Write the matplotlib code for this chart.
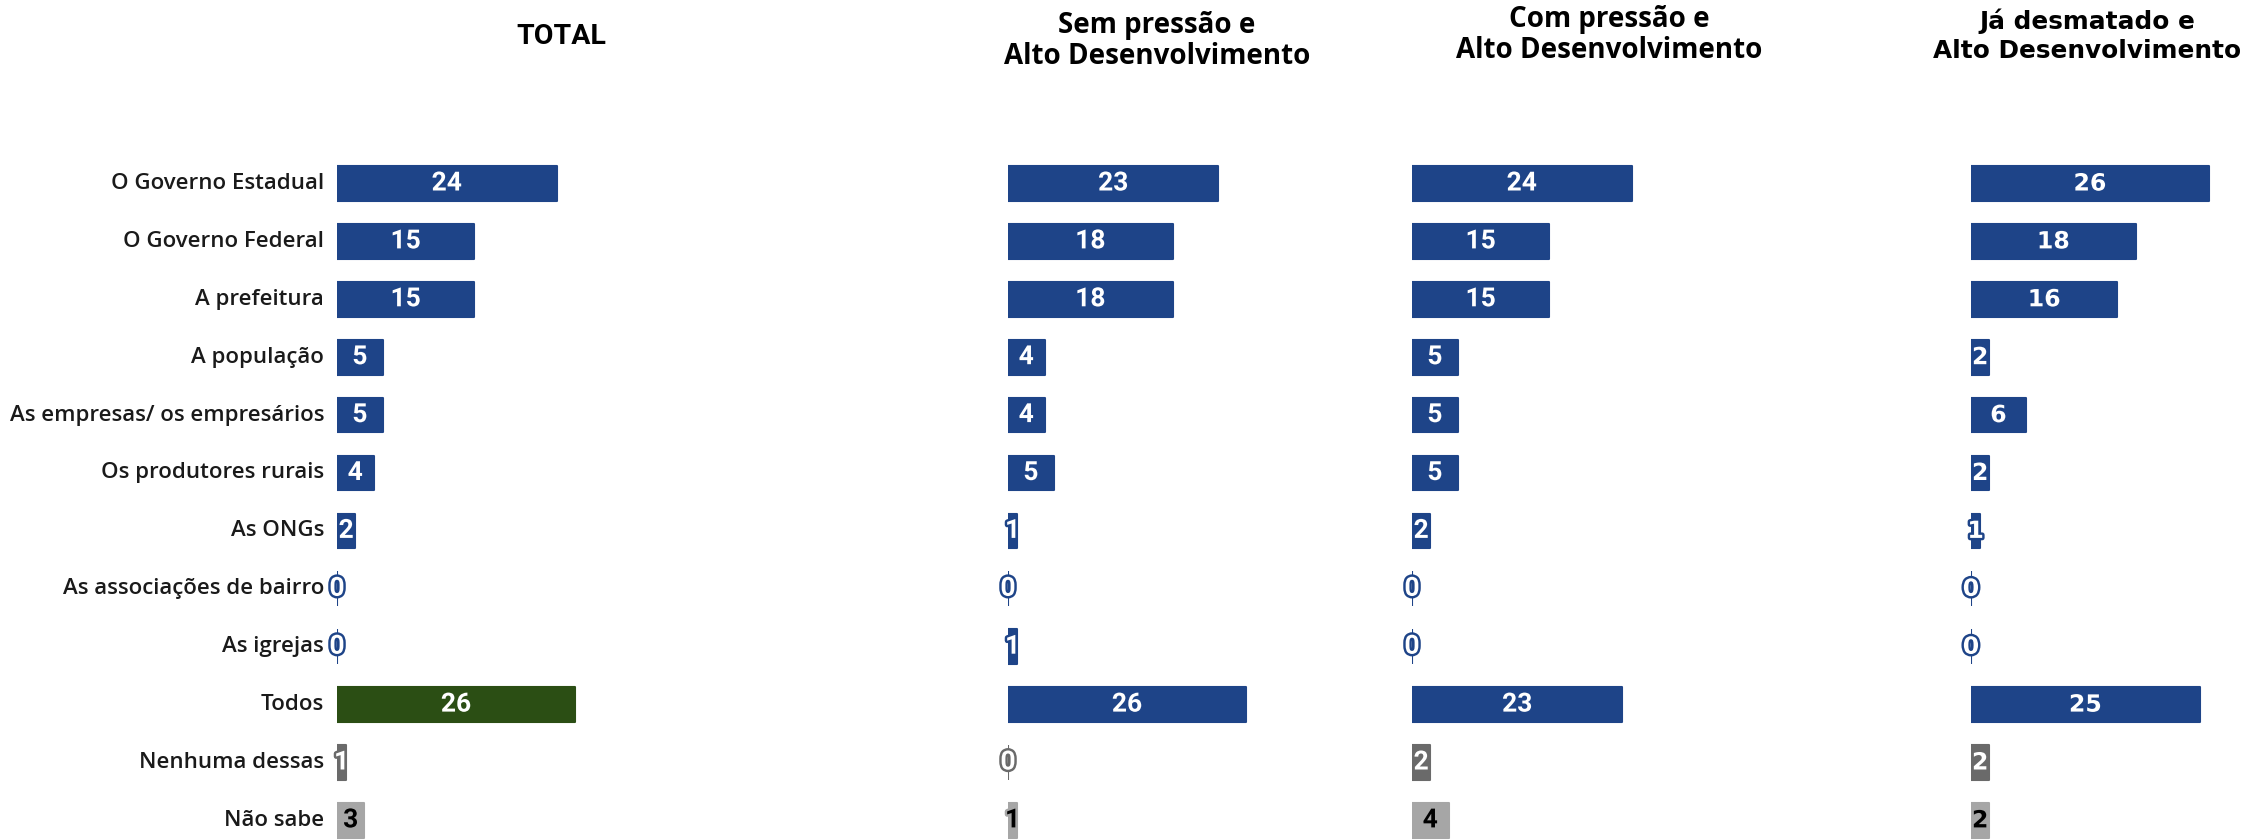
import matplotlib
matplotlib.use("Agg")
import matplotlib.pyplot as plt
import matplotlib.patheffects as pe

categories = ["O Governo Estadual", "O Governo Federal", "A prefeitura", "A população",
              "As empresas/ os empresários", "Os produtores rurais", "As ONGs",
              "As associações de bairro", "As igrejas", "Todos", "Nenhuma dessas", "Não sabe"]
titles = ["TOTAL", "Sem pressão e\nAlto Desenvolvimento", "Com pressão e\nAlto Desenvolvimento",
          "Já desmatado e\nAlto Desenvolvimento"]
total = [24, 15, 15, 5, 5, 4, 2, 0, 0, 26, 1, 3]
sem_pressao = [23, 18, 18, 4, 4, 5, 1, 0, 1, 26, 0, 1]
com_pressao = [24, 15, 15, 5, 5, 5, 2, 0, 0, 23, 2, 4]
ja_desmatado = [26, 18, 16, 2, 6, 2, 1, 0, 0, 25, 2, 2]
series = [total, sem_pressao, com_pressao, ja_desmatado]

BLUE = "#1E4488"
GREEN = "#2B4E14"
DGRAY = "#6A6A6A"
LGRAY = "#A6A6A6"

W, H = 2248, 840
fig = plt.figure(figsize=(W / 100, H / 100), dpi=100)
fig.patch.set_facecolor("white")

px_per_unit = 9.15
row_px = 57.9
first_center = 183.5
top_px = first_center - 0.5 * row_px
ax_h_px = H - top_px
n_rows_vis = ax_h_px / row_px
lefts = [337, 1008, 1412, 1971]
ax_w_px = 276

label_fonts = ["Roboto", "Roboto", "Roboto", "DejaVu Sans"]

for i, (vals, left) in enumerate(zip(series, lefts)):
    ax = fig.add_axes([left / W, 0, ax_w_px / W, ax_h_px / H])
    ax.set_xlim(0, ax_w_px / px_per_unit)
    ax.set_ylim(-0.5 + n_rows_vis, -0.5)
    ax.axis("off")
    colors = []
    tcolors = []
    for r in range(len(categories)):
        if r == 9:
            colors.append(GREEN if i == 0 else BLUE)
            tcolors.append("white")
        elif r == 10:
            colors.append(DGRAY)
            tcolors.append("white")
        elif r == 11:
            colors.append(LGRAY)
            tcolors.append("black")
        else:
            colors.append(BLUE)
            tcolors.append("white")
    ypos = list(range(len(categories)))
    bars = ax.barh(ypos, vals, height=0.60, color=colors, edgecolor=colors, linewidth=1.5)
    for b in bars:
        b.set_joinstyle("round")
    for r, v in enumerate(vals):
        ax.text(v / 2, r, f"{v}", ha="center", va="center", color=tcolors[r],
                fontsize=19 if i < 3 else 17, fontweight="bold", family=label_fonts[i],
                path_effects=[pe.withStroke(linewidth=3.5, foreground=colors[r])])
    if i == 0:
        for r, c in enumerate(categories):
            ax.text(-13 / px_per_unit, r, c, ha="right", va="center", color="#1a1a1a",
                    fontsize=16, fontweight="semibold", family="Open Sans")

fig.text(561 / W, 1 - 36 / H, titles[0], ha="center", va="center", fontsize=20.5,
         fontweight="bold", family="Roboto", color="black")
fig.text(1157 / W, 1 - 41 / H, titles[1], ha="center", va="center", fontsize=20,
         fontweight="bold", family="Open Sans", color="black", linespacing=1.1)
fig.text(1609 / W, 1 - 35 / H, titles[2], ha="center", va="center", fontsize=20,
         fontweight="bold", family="Open Sans", color="black", linespacing=1.1)
fig.text(2087 / W, 1 - 36 / H, titles[3], ha="center", va="center", fontsize=17.8,
         fontweight="bold", family="DejaVu Sans", color="black", linespacing=1.25)

fig.savefig("out.png", dpi=100, facecolor="white")
